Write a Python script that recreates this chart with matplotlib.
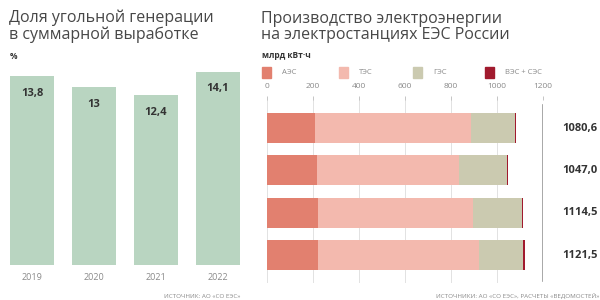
import matplotlib
matplotlib.use("Agg")
import matplotlib.pyplot as plt
from matplotlib.patches import Rectangle

plt.rcParams['font.family'] = ['Open Sans', 'DejaVu Sans']

# ---- data ----
years = ["2019", "2020", "2021", "2022"]
coal_share = [13.8, 13.0, 12.4, 14.1]
coal_labels = ["13,8", "13", "12,4", "14,1"]

series_names = ["АЭС", "ТЭС", "ГЭС", "ВЭС + СЭС"]
aes = [208.8, 215.7, 222.4, 223.6]
tes = [678.0, 620.0, 675.0, 697.0]
ges = [192.0, 208.0, 211.5, 193.5]
ves = [1.8, 3.3, 5.6, 7.4]
totals = ["1080,6", "1047,0", "1114,5", "1121,5"]
xticks = [0, 200, 400, 600, 800, 1000, 1200]

colors = ["#e2806f", "#f3b9ae", "#cbcab0", "#a11a2e"]
green = "#b9d5c1"
dark = "#333333"
gray = "#8a8a8a"

W, H = 600, 300
fig = plt.figure(figsize=(6, 3), dpi=100)
fig.patch.set_facecolor("white")

def fx(px):
    return px / W

def fy(py):
    return 1 - py / H

# ---- left chart ----
axL = fig.add_axes([0, fy(265), 250 / W, (265 - 59.5) / H])
xs = range(len(years))
axL.bar(xs, coal_share, width=0.71, color=green)
axL.set_xlim(-0.516, 3.516)
axL.set_ylim(0, 15)
for i, (v, lab) in enumerate(zip(coal_share, coal_labels)):
    axL.text(i, v - 1.25, lab, ha="center", va="center", fontsize=8,
             fontweight="bold", color=dark)
axL.set_xticks(list(xs))
axL.set_xticklabels(years, fontsize=6.5, color=gray)
axL.tick_params(axis="x", length=0, pad=6)
axL.set_yticks([])
for s in axL.spines.values():
    s.set_visible(False)

fig.text(fx(9), fy(10), "Доля угольной генерации\nв суммарной выработке",
         ha="left", va="top", fontsize=11.5, color="#474747", linespacing=1.0)
fig.text(fx(10), fy(57), "%", ha="left", va="center", fontsize=6,
         fontweight="bold", color=dark)
fig.text(fx(240), fy(296), "ИСТОЧНИК: АО «СО ЕЭС»", ha="right", va="center",
         fontsize=4.5, color=gray)

# ---- right chart ----
axR = fig.add_axes([fx(267), fy(283), 276 / W, 183 / H])
rows = range(len(aes))
left = [0.0] * 4
for name, vals, c in zip(series_names, [aes, tes, ges, ves], colors):
    axR.barh(list(rows), vals, left=left, height=0.706, color=c, zorder=2)
    left = [l + v for l, v in zip(left, vals)]
axR.set_xlim(0, 1200)
axR.set_ylim(3.65, -0.66)
axR.set_xticks(xticks)
axR.set_xticklabels([str(t) for t in xticks], fontsize=6, color=gray)
axR.xaxis.tick_top()
axR.tick_params(axis="x", length=3, width=0.6, color="#bbbbbb", pad=4)
axR.set_yticks([])
axR.grid(axis="x", color="#dddddd", linewidth=0.6, zorder=0)
axR.axvline(1200, color="#9a9a9a", linewidth=1.2, ymin=0.01, ymax=0.97, zorder=3)
for s in axR.spines.values():
    s.set_visible(False)
for i, t in enumerate(totals):
    axR.text(1283, i, t, ha="left", va="center", fontsize=8,
             fontweight="bold", color=dark, clip_on=False)

fig.text(fx(261), fy(11), "Производство электроэнергии\nна электростанциях ЕЭС России",
         ha="left", va="top", fontsize=11.5, color="#474747", linespacing=1.0)
fig.text(fx(262), fy(56), "млрд кВт·ч", ha="left", va="center", fontsize=6,
         fontweight="bold", color=dark)

leg_sq_x = [262, 339, 413, 485]
for x0, name, c in zip(leg_sq_x, series_names, colors):
    fig.patches.append(Rectangle((fx(x0), fy(78)), 9 / W, 11 / H,
                                 transform=fig.transFigure, color=c))
    fig.text(fx(x0 + 20), fy(72.5), name, ha="left", va="center",
             fontsize=5.5, color=gray)

fig.text(fx(599), fy(296), "ИСТОЧНИКИ: АО «СО ЕЭС», РАСЧЕТЫ «ВЕДОМОСТЕЙ»",
         ha="right", va="center", fontsize=4.5, color=gray)

fig.savefig("out.png", dpi=100, facecolor="white")
